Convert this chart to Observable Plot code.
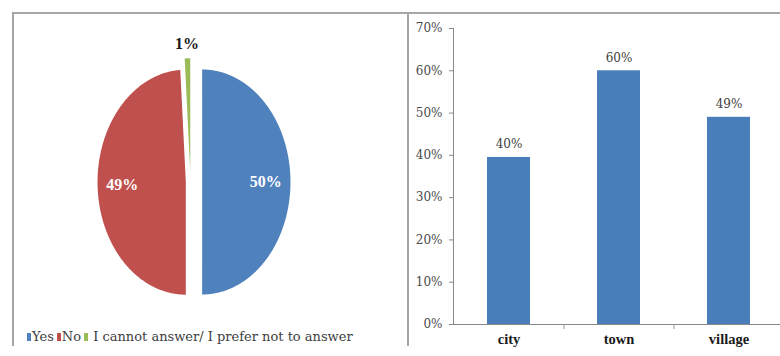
<!DOCTYPE html>
<html>
<head>
<meta charset="utf-8">
<script src="https://cdn.jsdelivr.net/npm/d3@7"></script>
<script src="https://cdn.jsdelivr.net/npm/@observablehq/plot@0.6"></script>
<style>
  body { margin: 0; background: #fff; }
  #root { position: relative; width: 780px; height: 356px; overflow: hidden; font-family: "DejaVu Serif", serif; }
  .ln { position: absolute; border-color: #a6a6a6; border-style: solid; border-width: 0; }
  #pie, #bars { position: absolute; top: 0; }
  #pie { left: 0; }
  #bars { left: 408px; }
  #legend { position: absolute; left: 27px; top: 328px; font-size: 13px; line-height: 18px; color: #404040; white-space: nowrap; }
  #legend .sw { display: inline-block; width: 4px; height: 8px; margin-right: 1px; vertical-align: 0px; }
  #legend .it { margin-right: 3px; }
</style>
</head>
<body>
<div id="root">
  <div id="pie"></div>
  <div id="bars"></div>
  <div id="legend"></div>
  <div class="ln" style="left:12px;top:12px;width:768px;height:0;border-top-width:2px;"></div>
  <div class="ln" style="left:12px;top:12px;width:0;height:334px;border-left-width:2px;"></div>
  <div class="ln" style="left:407px;top:12px;width:0;height:334px;border-left-width:2px;"></div>
</div>
<script>
// ---- Pie data ----
const answers = ["Yes", "No", "I cannot answer/ I prefer not to answer"];
const answerShares = [50, 49, 1];
const answerLabels = ["50%", "49%", "1%"];

// ---- Bar data ----
const places = ["city", "town", "village"];
const placeValues = [0.395, 0.60, 0.49];
const placeLabels = ["40%", "60%", "49%"];
const yTicks = [0, 0.1, 0.2, 0.3, 0.4, 0.5, 0.6, 0.7];

// ---- styles ----
const pieColors = ["#4f81bd", "#c0504d", "#9bbb59"];
const explodeBy = [0.132, 0.053, 0.1];   // slice explosion (style)
const barColor = "#4a7ebb";

// ---- Pie geometry from data ----
const arcs = d3.pie().sort(null).value(d => d)(answerShares);
const slicePts = arcs.map((a, i) => {
  const mid = (a.startAngle + a.endAngle) / 2;
  const ox = explodeBy[i] * Math.sin(mid), oy = explodeBy[i] * Math.cos(mid);
  const pts = [{x: ox, y: oy}];
  const n = Math.max(2, Math.ceil((a.endAngle - a.startAngle) / (Math.PI / 360)));
  for (let k = 0; k <= n; k++) {
    const t = a.startAngle + (a.endAngle - a.startAngle) * k / n;
    pts.push({x: ox + Math.sin(t), y: oy + Math.cos(t)});
  }
  pts.push({x: ox, y: oy});
  return pts;
});
const labelPts = arcs.map((a, i) => {
  const mid = (a.startAngle + a.endAngle) / 2;
  const share = answerShares[i] / d3.sum(answerShares);
  const inside = share >= 0.05;
  const r = inside ? 0.72 : 1.13;
  const ox = explodeBy[i] * Math.sin(mid), oy = explodeBy[i] * Math.cos(mid);
  return {x: ox + r * Math.sin(mid), y: oy + r * Math.cos(mid), text: answerLabels[i], inside};
});

const pie = Plot.plot({
  width: 408, height: 322, margin: 0,
  style: {fontFamily: "Liberation Serif", background: "transparent"},
  x: {domain: [-1, 1], range: [101.7, 278.3], axis: null},
  y: {domain: [-1, 1], range: [294, 69], axis: null},
  marks: [
    ...slicePts.map((pts, i) => Plot.line(pts, {x: "x", y: "y", fill: pieColors[i], stroke: "none"})),
    Plot.text(labelPts, {x: "x", y: "y", text: "text", fontSize: 16, fontWeight: "bold",
      fill: d => d.inside ? "#ffffff" : "#1a1a1a"})
  ]
});
document.getElementById("pie").appendChild(pie);

// legend
const leg = document.getElementById("legend");
answers.forEach((a, i) => {
  const s = document.createElement("span");
  s.className = "it";
  s.innerHTML = `<span class="sw" style="background:${pieColors[i]}"></span>${i === 2 ? "&nbsp;" : ""}${a}`;
  leg.appendChild(s);
});

// ---- Bar chart ----
const bars = Plot.plot({
  width: 372, height: 356, marginTop: 28, marginBottom: 32, marginLeft: 45, marginRight: 0,
  style: {fontFamily: "DejaVu Serif", background: "transparent", color: "#404040"},
  x: {domain: places, range: [45, 375], paddingInner: 0.61, paddingOuter: 0.305, axis: null},
  y: {domain: [0, 0.7], axis: null},
  marks: [
    Plot.barY(places, {x: d => d, y: (d, i) => placeValues[i], fill: barColor}),
    Plot.text(places, {x: d => d, y: (d, i) => placeValues[i], text: (d, i) => placeLabels[i],
      dy: -13, fontSize: 12, fill: "#404040"}),
    Plot.axisY({ticks: yTicks, tickFormat: d3.format(".0%"), tickSize: 4, tickPadding: 7,
      fontSize: 12, fill: "#4a4a4a", stroke: "#888"}),
    Plot.axisX({tickSize: 0, tickPadding: 9, fontSize: 14.5, fontWeight: "bold", fill: "#1a1a1a",
      fontFamily: "Liberation Serif"}),
    Plot.ruleX(places.slice(1), {x: d => d, y1: 0, y2: 0, insetBottom: -5, dx: -55, stroke: "#999"}),
    Plot.ruleY([0], {stroke: "#888"}),
    Plot.frame({anchor: "left", stroke: "#888"})
  ]
});
document.getElementById("bars").appendChild(bars);
</script>
</body>
</html>
